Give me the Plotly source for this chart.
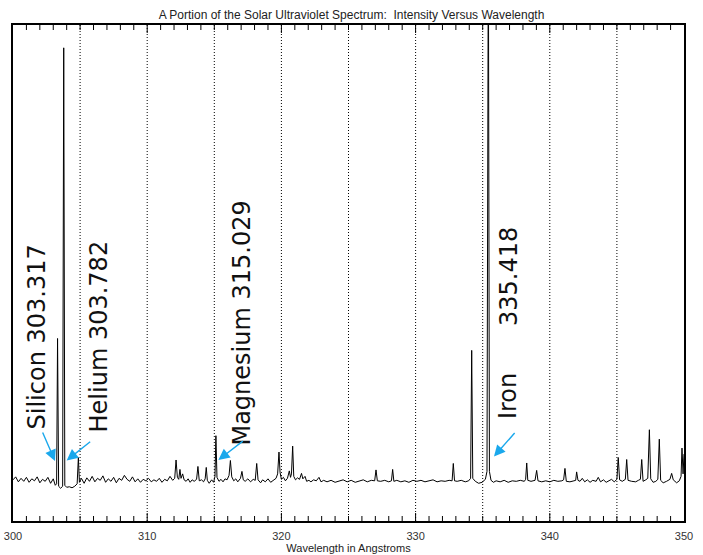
import plotly.graph_objects as go

# Spectrum samples (wavelength in Angstrom, relative intensity)
wavelength = [
    300.0, 300.2, 300.4, 300.6, 300.8, 301.0, 301.2, 301.4, 301.6, 301.8, 302.0, 302.2, 302.4, 302.6, 302.8,
    303.0, 303.15, 303.25, 303.32, 303.40, 303.55, 303.70, 303.78, 303.86, 304.0, 304.2, 304.4, 304.6, 304.78,
    304.87, 304.95, 305.1, 305.3, 305.5, 305.7, 305.9, 306.1, 306.3, 306.5, 306.7, 306.9, 307.1, 307.3, 307.5,
    307.7, 307.9, 308.1, 308.3, 308.5, 308.7, 308.9, 309.1, 309.3, 309.5, 309.7, 309.9, 310.1, 310.3, 310.5,
    310.7, 310.9, 311.1, 311.3, 311.5, 311.7, 311.9, 312.05, 312.15, 312.25, 312.35, 312.44, 312.52, 312.64,
    312.75, 312.9, 313.05, 313.2, 313.35, 313.5, 313.68, 313.78, 313.88, 314.05, 314.2, 314.32, 314.4, 314.48,
    314.62, 314.8, 314.95, 315.05, 315.12, 315.2, 315.35, 315.5, 315.65, 315.8, 315.95, 316.1, 316.2, 316.3,
    316.45, 316.6, 316.75, 316.95, 317.06, 317.16, 317.3, 317.5, 317.7, 317.9, 318.05, 318.16, 318.26, 318.45,
    318.6, 318.8, 319.0, 319.2, 319.4, 319.6, 319.72, 319.82, 319.9, 320.0, 320.15, 320.3, 320.45, 320.59,
    320.68, 320.75, 320.84, 320.92, 321.05, 321.2, 321.35, 321.5, 321.6, 321.76, 321.88, 322.05, 322.2, 322.4,
    322.6, 322.8, 322.95, 323.15, 323.4, 323.7, 324.0, 324.3, 324.6, 324.9, 325.2, 325.5, 325.8, 326.1, 326.4,
    326.7, 326.95, 327.05, 327.15, 327.4, 327.7, 328.0, 328.2, 328.29, 328.38, 328.6, 328.9, 329.2, 329.5,
    329.8, 330.1, 330.4, 330.7, 331.0, 331.3, 331.6, 331.9, 332.2, 332.5, 332.72, 332.81, 332.9, 333.1, 333.4,
    333.7, 333.95, 334.1, 334.18, 334.26, 334.45, 334.7, 334.95, 335.2, 335.32, 335.42, 335.5, 335.62, 335.8,
    336.0, 336.3, 336.6, 336.9, 337.2, 337.5, 337.8, 338.1, 338.2, 338.28, 338.36, 338.6, 338.9, 339.02,
    339.12, 339.4, 339.7, 340.0, 340.3, 340.6, 340.9, 341.03, 341.13, 341.23, 341.5, 341.8, 341.93, 342.0,
    342.1, 342.25, 342.42, 342.6, 342.8, 343.0, 343.2, 343.45, 343.61, 343.78, 344.0, 344.2, 344.4, 344.6,
    344.8, 345.0, 345.1, 345.2, 345.4, 345.63, 345.73, 345.83, 346.1, 346.4, 346.6, 346.75, 346.85, 346.95,
    347.15, 347.3, 347.42, 347.52, 347.7, 347.9, 348.05, 348.16, 348.26, 348.45, 348.7, 348.95, 349.08, 349.2,
    349.45, 349.65, 349.78, 349.85, 349.93, 350.0,
]
intensity = [
    8.3, 8.9, 7.9, 8.6, 8.0, 8.8, 7.8, 8.5, 8.1, 8.9, 7.7, 8.4, 8.0, 8.8, 7.6,
    8.5, 7.2, 7.5, 36.8, 7.0, 6.6, 7.0, 95.4, 7.2, 6.8, 6.9, 6.7, 7.0, 7.5,
    12.8, 7.8, 8.6, 7.6, 8.7, 8.0, 9.0, 7.9, 8.6, 8.2, 9.1, 7.8, 8.5, 8.0, 8.8,
    7.7, 8.6, 8.2, 9.2, 8.4, 8.0, 8.9, 7.9, 8.5, 7.8, 8.4, 8.1, 8.6, 7.9, 8.3,
    8.0, 8.6, 7.8, 8.4, 8.1, 9.0, 8.2, 8.6, 12.3, 8.8, 8.4, 10.4, 8.6, 9.5,
    8.3, 8.0, 8.5, 7.8, 8.3, 8.0, 8.4, 11.0, 8.1, 8.3, 7.9, 8.5, 10.8, 8.2,
    7.6, 8.3, 7.8, 9.0, 17.2, 8.8, 8.0, 8.4, 7.9, 8.5, 8.3, 9.2, 12.2, 8.9,
    8.1, 8.5, 7.9, 8.6, 10.0, 8.3, 8.0, 8.5, 7.9, 8.4, 8.2, 11.6, 8.3, 7.7,
    8.3, 7.9, 8.5, 7.8, 8.2, 8.6, 9.5, 13.9, 9.8, 8.4, 8.8, 8.1, 8.6, 10.1,
    8.8, 9.5, 15.1, 9.0, 8.3, 8.7, 8.4, 9.6, 8.5, 9.0, 8.0, 8.2, 7.9, 8.3,
    8.1, 8.8, 7.9, 8.2, 7.9, 8.2, 7.8, 8.1, 8.3, 7.9, 8.2, 7.8, 8.1, 8.3, 7.9,
    8.2, 8.1, 10.3, 8.1, 8.0, 8.2, 7.9, 8.1, 10.4, 8.0, 8.2, 7.9, 8.1, 7.8,
    8.2, 8.0, 8.2, 7.9, 8.1, 8.3, 7.9, 8.1, 8.0, 8.2, 8.1, 11.6, 8.1, 8.0, 8.2,
    7.9, 8.1, 8.6, 34.4, 8.6, 8.0, 7.6, 7.8, 8.4, 10.0, 120.0, 10.0, 8.2, 7.8,
    8.1, 7.9, 8.2, 7.8, 8.1, 8.0, 8.2, 8.0, 8.4, 11.7, 8.2, 8.0, 8.2, 10.2,
    8.1, 7.9, 8.1, 7.9, 8.2, 8.0, 8.1, 8.3, 10.6, 8.0, 7.9, 8.1, 8.2, 9.9,
    8.2, 8.0, 8.6, 7.9, 8.3, 7.8, 8.2, 8.0, 8.8, 7.9, 8.3, 7.8, 8.1, 8.4,
    7.9, 8.4, 12.8, 8.3, 8.0, 8.4, 12.4, 8.2, 8.0, 7.9, 8.2, 8.4, 12.4, 8.0,
    8.3, 8.6, 18.4, 8.5, 7.8, 8.0, 8.4, 16.5, 8.2, 7.7, 8.0, 8.4, 9.6, 8.3,
    7.7, 8.1, 9.0, 14.7, 9.5, 13.5,
]

# Labelled lines
line_labels = ["Silicon 303.317", "Helium 303.782", "Magnesium 315.029", "335.418", "Iron"]
label_x = [301.86, 306.48, 317.06, 336.96, 336.89]
label_y = [37.2, 37.2, 40.0, 49.2, 25.2]
arrow_tip_x = [303.13, 304.0, 315.30, 335.84]
arrow_tip_y = [12.1, 12.2, 12.3, 13.0]
arrow_dx = [-13, 25, 26, 22]
arrow_dy = [-30, -20, -20, -25]

grid_vals = [305, 310, 315, 320, 325, 330, 335, 340, 345]
tick_positions = list(range(301, 350))   # 1 Angstrom tick marks on top and bottom frame

PLOT_H = 555 - 25 - 34   # plot area height in pixels

fig = go.Figure()
fig.add_trace(go.Scatter(x=wavelength, y=intensity, mode="lines",
                         line=dict(color="black", width=1), showlegend=False,
                         hoverinfo="skip"))

for g in grid_vals:
    fig.add_vline(x=g, line=dict(color="black", width=1, dash="1px,2px"), layer="below")

# frame tick marks (longer every 10 Angstrom), pointing inwards on top and bottom
for t in tick_positions:
    tl = (8 if t % 10 == 0 else 5) / PLOT_H
    for y0, y1 in ((0, tl), (1, 1 - tl)):
        fig.add_shape(type="line", xref="x", yref="paper", x0=t, x1=t, y0=y0, y1=y1,
                      line=dict(color="black", width=1), layer="above")

for txt, lx, ly in zip(line_labels, label_x, label_y):
    fig.add_annotation(x=lx, y=ly, xref="x", yref="y", text=txt, showarrow=False,
                       textangle=-90, font=dict(family="DejaVu Sans", size=24, color="#111"))

for tx, ty, dx, dy in zip(arrow_tip_x, arrow_tip_y, arrow_dx, arrow_dy):
    fig.add_annotation(x=tx, y=ty, xref="x", yref="y", ax=dx, ay=dy, text="",
                       showarrow=True, arrowhead=2, arrowsize=1.6, arrowwidth=1.4,
                       arrowcolor="#1AA8EC")

fig.update_layout(
    width=703, height=555,
    margin=dict(l=13, r=19, t=25, b=34),
    plot_bgcolor="white",
    font=dict(family="Liberation Sans", size=11, color="#222"),
    title=dict(text="A Portion of the Solar Ultraviolet Spectrum:  Intensity Versus Wavelength",
               x=0.5, xanchor="center", y=1 - 15 / 555, yanchor="middle", yref="container",
               font=dict(family="Liberation Sans", size=12, color="#222")),
    xaxis=dict(range=[300, 350], dtick=10, ticks="", showline=True, linecolor="black",
               linewidth=1.5, mirror=True, automargin=False, showgrid=False, zeroline=False,
               ticklabelstandoff=4,
               title=dict(text="Wavelength in Angstroms", standoff=2,
                          font=dict(family="Liberation Sans", size=11, color="#222")),
               tickfont=dict(family="Liberation Sans", size=11, color="#333")),
    yaxis=dict(range=[0, 100], showticklabels=False, ticks="", showgrid=False, zeroline=False,
               automargin=False, showline=True, linecolor="black", linewidth=1.5, mirror=True),
)

fig.write_html("out.html")
